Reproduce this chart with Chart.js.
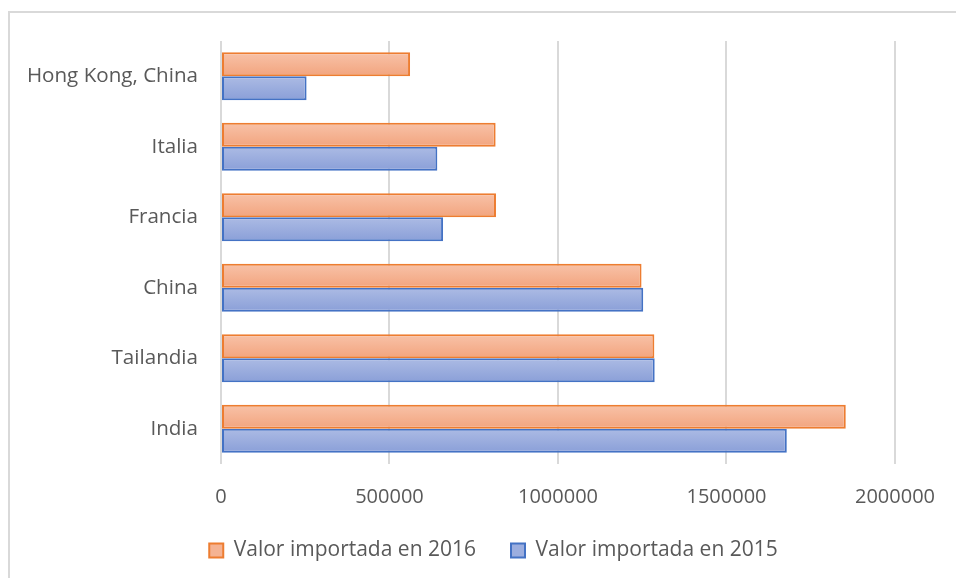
<!DOCTYPE html>
<html lang="es">
<head>
<meta charset="UTF-8">
<title>Valor importada 2015 / 2016</title>
<script src="https://cdn.jsdelivr.net/npm/chart.js"></script>
<style>
  html, body { margin: 0; padding: 0; background: #fff; }
  #wrap { position: relative; width: 956px; height: 578px; overflow: hidden; }
  #frame { position: absolute; left: 8px; top: 11px; width: 960px; height: 580px;
           border-top: 2px solid #d9d9d9; border-left: 2px solid #d9d9d9; }
  #chart { position: absolute; left: 0; top: 0; }
</style>
</head>
<body>
<div id="wrap">
  <div id="frame"></div>
  <canvas id="chart" width="956" height="578"></canvas>
</div>
<script>
// data, top to bottom as in the picture
const categories = ['Hong Kong, China', 'Italia', 'Francia', 'China', 'Tailandia', 'India'];
const seriesNames = ['Valor importada en 2016', 'Valor importada en 2015'];
const values2016 = [561000, 815000, 816000, 1248000, 1286000, 1854000];
const values2015 = [254000, 642000, 659000, 1253000, 1287000, 1679000];
const xTicks = [0, 500000, 1000000, 1500000, 2000000];

const CAT_PCT = 0.68;
const FAMILY = "'Open Sans', sans-serif";

// vertical gradient for each bar, worked out from the y scale
function barFill(topCol, bottomCol) {
  return (ctx) => {
    const chart = ctx.chart;
    const sc = chart.scales && chart.scales.y;
    if (!sc || ctx.type !== 'data') return bottomCol;
    const step = sc.height / categories.length;
    const center = sc.getPixelForValue(ctx.dataIndex);
    const half = step * CAT_PCT / 2;
    const y0 = ctx.datasetIndex === 0 ? center - half : center;
    if (!Number.isFinite(y0) || !Number.isFinite(half) || half <= 0) return bottomCol;
    const g = chart.ctx.createLinearGradient(0, y0, 0, y0 + half);
    g.addColorStop(0, topCol);
    g.addColorStop(1, bottomCol);
    return g;
  };
}

const legendFill = ['#f5b393', '#9caedf'];

// y labels get clipped to the scale box, let the long one use the left margin
const labelRoom = {
  id: 'labelRoom',
  afterLayout: (chart) => { chart.scales.y.left = 0; }
};

new Chart(document.getElementById('chart'), {
  type: 'bar',
  data: {
    labels: categories,
    datasets: [{
      label: seriesNames[0],
      data: values2016,
      backgroundColor: barFill('#f8c2a8', '#f2a47e'),
      borderColor: '#ed7d31',
      borderWidth: 2,
      borderSkipped: false
    }, {
      label: seriesNames[1],
      data: values2015,
      backgroundColor: barFill('#acbbe4', '#8a9fd8'),
      borderColor: '#4472c4',
      borderWidth: 2,
      borderSkipped: false
    }]
  },
  plugins: [labelRoom],
  options: {
    indexAxis: 'y',
    responsive: false,
    animation: false,
    datasets: { bar: { categoryPercentage: CAT_PCT, barPercentage: 1.0 } },
    layout: { padding: { top: 41, right: 0, left: 31, bottom: 7 } },
    scales: {
      x: {
        min: 0,
        max: 2000000,
        afterBuildTicks: (s) => { s.ticks = xTicks.map(v => ({ value: v })); },
        grid: { color: '#d9d9d9', lineWidth: 2, drawTicks: false },
        border: { display: false },
        ticks: {
          color: '#595959',
          font: { family: FAMILY, size: 20 },
          padding: 21,
          callback: (v) => String(v)
        },
        afterFit: (s) => { s.height = 41; }
      },
      y: {
        grid: { display: false, drawTicks: false },
        border: { display: false },
        ticks: { color: '#595959', font: { family: FAMILY, size: 20.6 }, padding: 23 },
        afterFit: (s) => { s.width = 190; }
      },
      // empty axis on the right, only keeps room for the last tick label
      y2: {
        type: 'category',
        position: 'right',
        grid: { display: false, drawTicks: false },
        border: { display: false },
        ticks: { display: false },
        afterFit: (s) => { s.width = 55; }
      }
    },
    plugins: {
      legend: {
        position: 'bottom',
        labels: {
          color: '#595959',
          font: { family: FAMILY, size: 21 },
          boxWidth: 14,
          boxHeight: 14,
          padding: 35,
          generateLabels: (chart) => {
            const items = Chart.defaults.plugins.legend.labels.generateLabels(chart);
            items.forEach((it, i) => { it.fillStyle = legendFill[i]; it.lineWidth = 2; });
            return items;
          }
        }
      },
      tooltip: { enabled: false }
    }
  }
});
</script>
</body>
</html>
